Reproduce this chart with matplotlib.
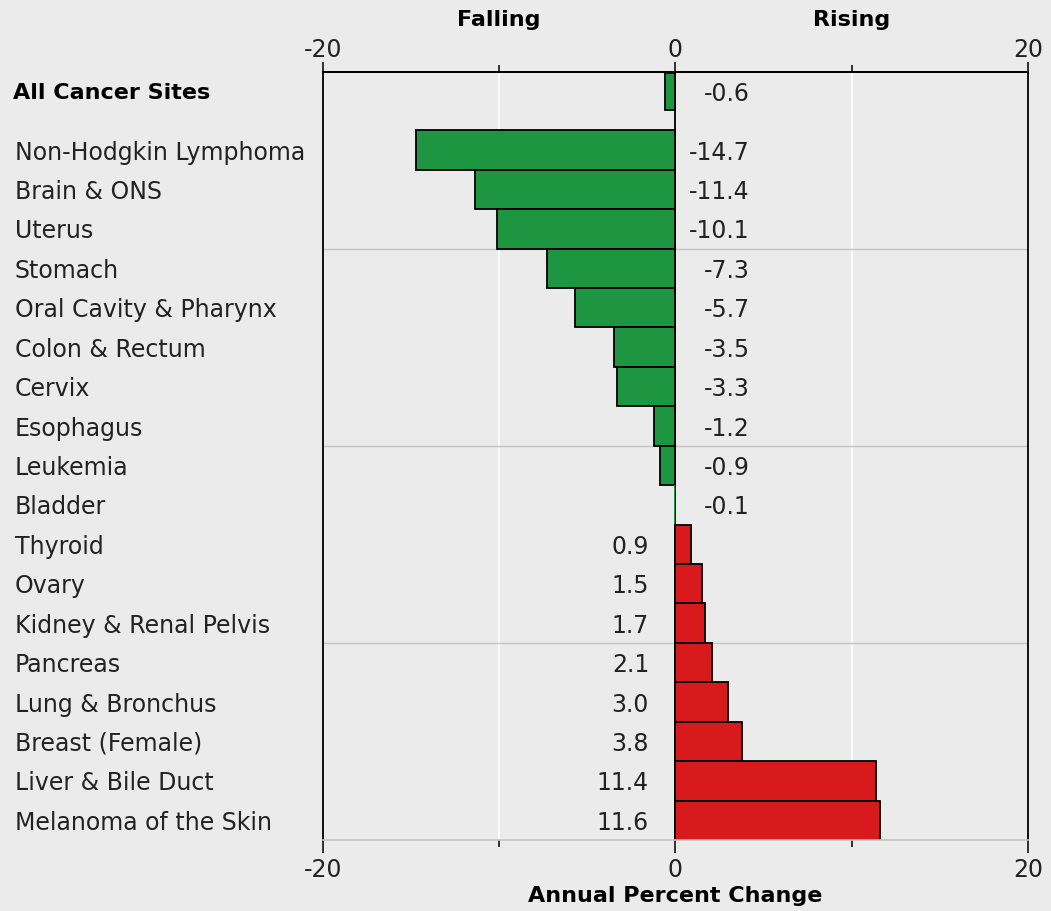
import matplotlib.pyplot as plt
import matplotlib.transforms as mtransforms
import numpy as np

plt.rcParams['axes.unicode_minus'] = False

overall_label = "All Cancer Sites"
overall_value = -0.6

sites = ["Non-Hodgkin Lymphoma", "Brain & ONS", "Uterus", "Stomach",
         "Oral Cavity & Pharynx", "Colon & Rectum", "Cervix", "Esophagus",
         "Leukemia", "Bladder", "Thyroid", "Ovary", "Kidney & Renal Pelvis",
         "Pancreas", "Lung & Bronchus", "Breast (Female)",
         "Liver & Bile Duct", "Melanoma of the Skin"]
apc = [-14.7, -11.4, -10.1, -7.3, -5.7, -3.5, -3.3, -1.2, -0.9, -0.1,
       0.9, 1.5, 1.7, 2.1, 3.0, 3.8, 11.4, 11.6]

bg = "#ebebeb"
green = "#1e9641"
red = "#d81a1c"
fs = 17
fsb = 16

fig = plt.figure(figsize=(10.51, 9.11), dpi=100, facecolor=bg)
ax = fig.add_axes([0.3073, 0.0779, 0.6708, 0.8431], facecolor=bg)

y = np.arange(len(sites))
y_all = -1.49

# grid lines
for gx in [-10, 10]:
    ax.axvline(gx, color="white", lw=1.2, zorder=0)
for gy in [2.5, 7.5, 12.5]:
    ax.axhline(gy, color="#c4c4c4", lw=1.0, zorder=0)
ax.axvline(0, color="black", lw=1.3, zorder=1)

colors = [green if v < 0 else red for v in apc]
edges = ["black" if abs(v) >= 0.5 else "none" for v in apc]
ax.barh(y, apc, height=1.0, color=colors, edgecolor=edges, linewidth=1.3, zorder=2)
ax.barh(y_all, overall_value, height=0.95, color=green, edgecolor="black",
        linewidth=1.3, zorder=2)

# value labels
for yy, v in list(zip(y, apc)) + [(y_all, overall_value)]:
    if v < 0:
        ax.text(4.2, yy, f"{v:.1f}", ha="right", va="center_baseline", fontsize=fs, color="#222222")
    else:
        ax.text(-1.5, yy, f"{v:.1f}", ha="right", va="center_baseline", fontsize=fs, color="#222222")

# category labels
trans = mtransforms.blended_transform_factory(fig.transFigure, ax.transData)
for yy, name in zip(y, sites):
    ax.text(15 / 1051, yy, name, transform=trans, ha="left", va="center_baseline",
            fontsize=fs, color="#222222")
ax.text(13 / 1051, y_all, overall_label, transform=trans, ha="left", va="center_baseline",
        fontsize=fsb, fontweight="bold", color="black")

ax.set_xlim(-20, 20)
ax.set_ylim(17.5, -1.98)
ax.set_yticks([])

# bottom axis
ax.set_xticks([-20, 0, 20])
ax.set_xticks([-10, 10], minor=True)
ax.tick_params(axis="x", which="major", direction="out", length=9, width=1.3,
               labelsize=fs, pad=4, colors="#222222")
ax.tick_params(axis="x", which="minor", direction="out", length=5, width=1.3,
               colors="#222222")
for s in ["left", "right", "top"]:
    ax.spines[s].set_linewidth(1.3)
ax.spines["bottom"].set_color("#c4c4c4")
ax.spines["bottom"].set_linewidth(1.2)

# top axis
top = ax.secondary_xaxis("top")
top.set_xticks([-20, 0, 20])
top.set_xticks([-10, 10], minor=True)
top.tick_params(axis="x", which="major", direction="out", length=7, width=1.3,
                labelsize=fs, pad=0, colors="#222222")
top.tick_params(axis="x", which="minor", direction="out", length=5, width=1.3,
                colors="#222222")
top.spines["top"].set_linewidth(1.3)

ax.set_xlabel("Annual Percent Change", fontsize=fsb, fontweight="bold", labelpad=3)
ax.text(-10, 1.054, "Falling", transform=ax.get_xaxis_transform(), ha="center",
        va="bottom", fontsize=fsb, fontweight="bold")
ax.text(10, 1.054, "Rising", transform=ax.get_xaxis_transform(), ha="center",
        va="bottom", fontsize=fsb, fontweight="bold")

plt.savefig("out.png", dpi=100, facecolor=bg)
